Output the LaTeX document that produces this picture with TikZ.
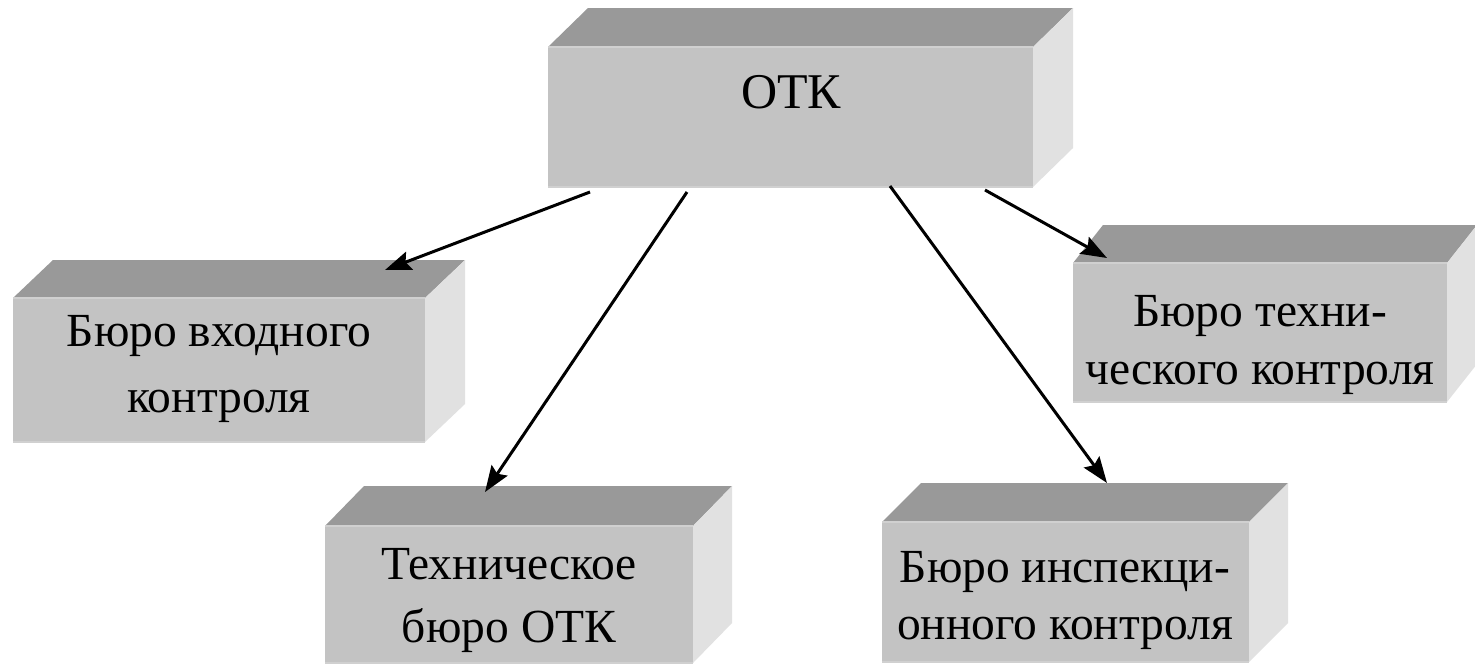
\documentclass[tikz,border=0pt]{standalone}
\usepackage{fontspec}
\setmainfont{Liberation Serif}
\usetikzlibrary{arrows.meta}
\definecolor{topc}{HTML}{999999}
\definecolor{frontc}{HTML}{C3C3C3}
\definecolor{sidec}{HTML}{E1E1E1}
\definecolor{edgec}{HTML}{D0D0D0}
\tikzset{
  topface/.style={fill=topc},
  sideface/.style={fill=sidec},
  frontface/.style={fill=frontc, inner sep=0pt, outer sep=0pt},
  edgeline/.style={draw=edgec, line width=1.5pt},
  boxtext/.style={align=center, font=\fontsize{47.5}{#1}\selectfont, inner sep=0pt},
  link/.style={line width=3pt, -{Stealth[length=26pt,width=19pt,inset=4pt]}},
}
% name, left, top, right, bottom, dx, dy
\newcommand\cubebox[7]{%
  \fill[topface] (#2,#3) -- (#2+#6,#3-#7) -- (#4+#6,#3-#7) -- (#4,#3) -- cycle;
  \fill[sideface] (#4,#3) -- (#4+#6,#3-#7) -- (#4+#6,#5-#7) -- (#4,#5) -- cycle;
  \node[frontface, anchor=north west, minimum width={(#4-#2)*1pt}, minimum height={(#5-#3)*1pt}] (#1) at (#2,#3) {};
  \draw[edgeline] (#2,#3) -- (#4,#3);
  \draw[edgeline] (#2,#5) -- (#4,#5);
}
\begin{document}
\begin{tikzpicture}[x=1pt,y=-1pt]
\useasboundingbox (0,0) rectangle (1475,665);
\fill[white] (0,0) rectangle (1475,665);

\cubebox{otk}{548}{47}{1033}{187}{40}{39}
\cubebox{vhod}{13}{298}{425}{442}{40}{38}
\cubebox{tehb}{325}{526}{693}{663}{39}{40}
\cubebox{insp}{882}{522}{1249}{662}{39}{39}
\cubebox{tehk}{1073}{263}{1447}{402}{30}{38}

\node[font=\fontsize{50}{60}\selectfont, inner sep=0pt, anchor=base] (otkt) at (791,108) {ОТК};
\node[boxtext=66] (vhodt) at (219,369) {Бюро входного\\контроля};
\node[boxtext=63] (tehbt) at (509,600) {Техническое\\бюро ОТК};
\node[boxtext=57] (inspt) at (1065,600) {Бюро инспекци-\\онного контроля};
\node[boxtext=58] (tehkt) at (1260,345) {Бюро техни-\\ческого контроля};

\coordinate (s1) at (590,192);
\coordinate (e1) at (385,270);
\coordinate (s2) at (687,192);
\coordinate (e2) at (485,492);
\coordinate (s3) at (890,186);
\coordinate (e3) at (1107,483);
\coordinate (s4) at (985,190);
\coordinate (e4) at (1107,258);
\draw[link] (s1) -- (e1);
\draw[link] (s2) -- (e2);
\draw[link] (s3) -- (e3);
\draw[link] (s4) -- (e4);
\end{tikzpicture}
\end{document}
